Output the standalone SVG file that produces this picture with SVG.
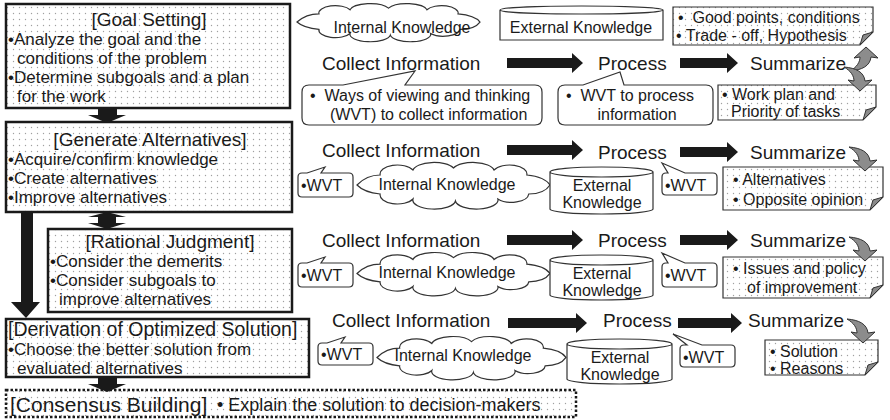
<svg xmlns="http://www.w3.org/2000/svg" xmlns:xlink="http://www.w3.org/1999/xlink" width="890" height="420" viewBox="0 0 890 420">
  <defs>
    <style>
      .t { font-family: "Liberation Sans", Arial, sans-serif; fill: #1a1a1a; }
      .title { font-size: 19px; }
      .body { font-size: 17px; }
      .step { font-size: 19px; }
      .small { font-size: 16px; }
      .box { fill: url(#dots); stroke: #1a1a1a; stroke-width: 2.5; }
      .thin { fill: #fff; stroke: #333; stroke-width: 1.2; }
      .note { fill: url(#dots); stroke: #333; stroke-width: 1.2; }
      .fold { fill: #8a8a8a; stroke: #333; stroke-width: 1; }
      .curl { fill: #8c8c8c; stroke: #333; stroke-width: 1; }
      .block { fill: #1a1a1a; }
    </style>
    <pattern id="dots" width="6" height="6" patternUnits="userSpaceOnUse">
      <rect width="6" height="6" fill="#fff"/>
      <circle cx="1.5" cy="1.5" r="0.7" fill="#a0a0a0"/>
    </pattern>
    <!-- cloud outline in a 200 x 44 box -->
    <path id="cloud" vector-effect="non-scaling-stroke" d="M0 22 C6 16 14 12 24 12 A18 9 0 0 1 58 7 A22 9 0 0 1 100 5 A22 9 0 0 1 142 7 A18 9 0 0 1 176 12 C186 13 196 16 200 22 C196 28 188 31 178 31 A18 9 0 0 1 146 36 A22 9 0 0 1 102 38 A22 9 0 0 1 58 36 A18 9 0 0 1 24 31 C14 30 6 28 0 22 Z"/>
    <!-- grey curved arrow, tip at origin pointing down -->
    <path id="curl" d="M0 0 L12 -11 L5 -10 C4 -19 -4 -23 -16 -24 C-9 -20 -6 -15 -6 -10 L-12 -11 Z"/>
  </defs>

  <rect width="890" height="420" fill="#fff"/>

  <!-- process stages, left column -->
  <g id="goal-setting">
    <rect class="box" x="6" y="4" width="284" height="104"/>
    <text class="t title" x="149" y="26" text-anchor="middle">[Goal Setting]</text>
    <text class="t body" x="8" y="45">•Analyze the goal and the</text>
    <text class="t body" x="17" y="64">conditions of the problem</text>
    <text class="t body" x="8" y="83">•Determine subgoals and a plan</text>
    <text class="t body" x="17" y="102">for the work</text>
  </g>

  <g id="generate-alternatives">
    <rect class="box" x="6" y="122" width="286" height="90"/>
    <text class="t title" x="150" y="146" text-anchor="middle">[Generate Alternatives]</text>
    <text class="t body" x="8" y="165">•Acquire/confirm knowledge</text>
    <text class="t body" x="8" y="184">•Create alternatives</text>
    <text class="t body" x="8" y="203">•Improve alternatives</text>
  </g>

  <g id="rational-judgment">
    <rect class="box" x="48" y="229" width="244" height="83"/>
    <text class="t title" x="170" y="248" text-anchor="middle">[Rational Judgment]</text>
    <text class="t body" x="50" y="267">•Consider the demerits</text>
    <text class="t body" x="50" y="286">•Consider subgoals to</text>
    <text class="t body" x="59" y="305">improve alternatives</text>
  </g>

  <g id="derivation">
    <rect class="box" x="6" y="319" width="303" height="58"/>
    <text class="t" x="8" y="336" font-size="19.5">[Derivation of Optimized Solution]</text>
    <text class="t body" x="8" y="355">•Choose the better solution from</text>
    <text class="t body" x="17" y="374">evaluated alternatives</text>
  </g>

  <g id="consensus-building">
    <rect x="6" y="390" width="570" height="27" fill="url(#dots)" stroke="#1a1a1a" stroke-width="2.5" stroke-dasharray="2.5 2"/>
    <text class="t" x="10" y="412" font-size="21">[Consensus Building]</text>
    <text class="t" x="217" y="411" font-size="18">• Explain the solution to decision-makers</text>
  </g>

  <!-- stage-to-stage connectors -->
  <g id="stage-connectors">
    <polygon class="block" points="98,108 117,108 117,115 126,115 107,123 88,115 98,115"/>
    <polygon class="block" points="107,212 126,217 116,217 116,223 126,223 107,229 88,223 98,223 98,217 88,217"/>
    <polygon class="block" points="21,212 33,212 33,302 40,302 26,318 11,302 21,302"/>
    <polygon class="block" points="98,377 117,377 117,384 126,384 107,392 88,384 98,384"/>
  </g>

  <!-- row 1: goal setting -->
  <g id="row1-internal">
    <use xlink:href="#cloud" class="thin" transform="translate(297 4) scale(0.915 0.82)"/>
    <text class="t small" x="402" y="33" text-anchor="middle">Internal Knowledge</text>
  </g>
  <g id="row1-external">
    <path class="thin" d="M500 10 V40 H663 V10 A81.5 4 0 0 0 500 10 A81.5 4 0 0 0 663 10"/>
    <text class="t small" x="581" y="33" text-anchor="middle">External Knowledge</text>
  </g>
  <g id="row1-note-top">
    <path class="note" d="M673 7 H873 V32 L860 45 H673 Z"/>
    <path class="fold" d="M873 32 L860 45 L863 35 Z"/>
    <text class="t small" x="678" y="23" xml:space="preserve">•  Good points, conditions</text>
    <text class="t small" x="676" y="41">• Trade - off, Hypothesis</text>
  </g>
  <g id="row1-steps">
    <text class="t step" x="322" y="70">Collect Information</text>
    <text class="t step" x="598" y="70">Process</text>
    <text class="t step" x="750" y="70">Summarize</text>
  </g>
  <g id="row1-wvt-collect">
    <path class="thin" d="M309 85 L343 85 L415 71 L405 85 L535 85 Q542 85 542 92 L542 118 Q542 125 535 125 L309 125 Q302 125 302 118 L302 92 Q302 85 309 85 Z"/>
    <text class="t small" x="310" y="101" xml:space="preserve">•  Ways of viewing and thinking</text>
    <text class="t small" x="330" y="120">(WVT) to collect information</text>
  </g>
  <g id="row1-wvt-process">
    <path class="thin" d="M565 85 L583 85 L620 72 L624 85 L706 85 Q713 85 713 92 L713 118 Q713 125 706 125 L565 125 Q558 125 558 118 L558 92 Q558 85 565 85 Z"/>
    <text class="t small" x="566" y="101" xml:space="preserve">•  WVT to process</text>
    <text class="t small" x="637" y="120" text-anchor="middle">information</text>
  </g>
  <g id="row1-note-bottom">
    <path class="note" d="M718 85 H876 V107 L863 120 H718 Z"/>
    <path class="fold" d="M876 107 L863 120 L866 110 Z"/>
    <text class="t small" x="722" y="100">• Work plan and</text>
    <text class="t small" x="731" y="117">Priority of tasks</text>
  </g>

  <!-- row 2: generate alternatives -->
  <g id="row2-steps">
    <text class="t step" x="322" y="157">Collect Information</text>
    <text class="t step" x="598" y="159">Process</text>
    <text class="t step" x="750" y="159">Summarize</text>
  </g>
  <g id="row2-wvt-collect">
    <path class="thin" d="M302 173 L307 173 L325 167 L321 173 L349 173 Q353 173 353 177 L353 193 Q353 197 349 197 L302 197 Q298 197 298 193 L298 177 Q298 173 302 173 Z"/>
    <text class="t small" x="301" y="191">•WVT</text>
  </g>
  <g id="row2-internal">
    <use xlink:href="#cloud" class="thin" transform="translate(357 163) scale(0.965 1.0)"/>
    <text class="t small" x="447" y="190" text-anchor="middle">Internal Knowledge</text>
  </g>
  <g id="row2-external">
    <path class="thin" d="M550 172 V209 A51.5 5 0 0 0 653 209 V172 A51.5 5 0 0 0 550 172 A51.5 5 0 0 0 653 172"/>
    <text class="t small" x="602" y="191" text-anchor="middle">External</text>
    <text class="t small" x="602" y="208" text-anchor="middle">Knowledge</text>
  </g>
  <g id="row2-wvt-process">
    <path class="thin" d="M666 173 L668 173 L662 163 L685 173 L713 173 Q717 173 717 177 L717 191 Q717 195 713 195 L666 195 Q662 195 662 191 L662 177 Q662 173 666 173 Z"/>
    <text class="t small" x="665" y="191">•WVT</text>
  </g>
  <g id="row2-note">
    <path class="note" d="M723 167 H883 V197 L870 210 H723 Z"/>
    <path class="fold" d="M883 197 L870 210 L873 200 Z"/>
    <text class="t small" x="733" y="185">• Alternatives</text>
    <text class="t small" x="733" y="205">• Opposite opinion</text>
  </g>

  <!-- row 3: rational judgment -->
  <g id="row3-steps">
    <text class="t step" x="322" y="247">Collect Information</text>
    <text class="t step" x="598" y="247">Process</text>
    <text class="t step" x="750" y="247">Summarize</text>
  </g>
  <g id="row3-wvt-collect">
    <path class="thin" d="M302 263 L307 263 L325 257 L321 263 L349 263 Q353 263 353 267 L353 283 Q353 287 349 287 L302 287 Q298 287 298 283 L298 267 Q298 263 302 263 Z"/>
    <text class="t small" x="301" y="281">•WVT</text>
  </g>
  <g id="row3-internal">
    <use xlink:href="#cloud" class="thin" transform="translate(357 253) scale(0.965 0.93)"/>
    <text class="t small" x="447" y="278" text-anchor="middle">Internal Knowledge</text>
  </g>
  <g id="row3-external">
    <path class="thin" d="M550 260 V295 A51.5 5 0 0 0 653 295 V260 A51.5 5 0 0 0 550 260 A51.5 5 0 0 0 653 260"/>
    <text class="t small" x="602" y="279" text-anchor="middle">External</text>
    <text class="t small" x="602" y="296" text-anchor="middle">Knowledge</text>
  </g>
  <g id="row3-wvt-process">
    <path class="thin" d="M666 263 L668 263 L662 253 L685 263 L713 263 Q717 263 717 267 L717 283 Q717 287 713 287 L666 287 Q662 287 662 283 L662 267 Q662 263 666 263 Z"/>
    <text class="t small" x="665" y="281">•WVT</text>
  </g>
  <g id="row3-note">
    <path class="note" d="M723 257 H883 V285 L870 298 H723 Z"/>
    <path class="fold" d="M883 285 L870 298 L873 288 Z"/>
    <text class="t small" x="733" y="274">• Issues and policy</text>
    <text class="t small" x="747" y="293">of improvement</text>
  </g>

  <!-- row 4: derivation of optimized solution -->
  <g id="row4-steps">
    <text class="t step" x="332" y="327">Collect Information</text>
    <text class="t step" x="603" y="327">Process</text>
    <text class="t step" x="748" y="327">Summarize</text>
  </g>
  <g id="row4-wvt-collect">
    <path class="thin" d="M322 343 L327 343 L345 337 L341 343 L369 343 Q373 343 373 347 L373 361 Q373 365 369 365 L322 365 Q318 365 318 361 L318 347 Q318 343 322 343 Z"/>
    <text class="t small" x="321" y="360">•WVT</text>
  </g>
  <g id="row4-internal">
    <use xlink:href="#cloud" class="thin" transform="translate(377 337) scale(0.945 0.93)"/>
    <text class="t small" x="463" y="361" text-anchor="middle">Internal Knowledge</text>
  </g>
  <g id="row4-external">
    <path class="thin" d="M567 344 V379 A52.5 5 0 0 0 672 379 V344 A52.5 5 0 0 0 567 344 A52.5 5 0 0 0 672 344"/>
    <text class="t small" x="620" y="363" text-anchor="middle">External</text>
    <text class="t small" x="620" y="380" text-anchor="middle">Knowledge</text>
  </g>
  <g id="row4-wvt-process">
    <path class="thin" d="M684 345 L687 345 L673 334 L702 345 L731 345 Q735 345 735 349 L735 363 Q735 367 731 367 L684 367 Q680 367 680 363 L680 349 Q680 345 684 345 Z"/>
    <text class="t small" x="683" y="363">•WVT</text>
  </g>
  <g id="row4-note">
    <path class="note" d="M765 340 H878 V362 L865 375 H765 Z"/>
    <path class="fold" d="M878 362 L865 375 L868 365 Z"/>
    <text class="t small" x="770" y="357">• Solution</text>
    <text class="t small" x="770" y="374">• Reasons</text>
  </g>

  <!-- flow arrows between steps and summary curls -->
  <g id="connectors">
    <polygon class="block" points="507,58 572,58 572,53 583,63 572,73 572,68 507,68"/>
    <polygon class="block" points="680,58 727,58 727,53 738,63 727,73 727,68 680,68"/>
    <polygon class="block" points="507,145 572,145 572,140 583,150 572,160 572,155 507,155"/>
    <polygon class="block" points="680,147 727,147 727,142 738,152 727,162 727,157 680,157"/>
    <polygon class="block" points="507,235 572,235 572,230 583,240 572,250 572,245 507,245"/>
    <polygon class="block" points="680,235 727,235 727,230 738,240 727,250 727,245 680,245"/>
    <polygon class="block" points="508,318 576,318 576,313 587,323 576,333 576,328 508,328"/>
    <polygon class="block" points="678,318 731,318 731,313 742,323 731,333 731,328 678,328"/>

    <use xlink:href="#curl" class="curl" transform="translate(866 47) scale(1 -1)"/>
    <use xlink:href="#curl" class="curl" transform="translate(860 91)"/>
    <use xlink:href="#curl" class="curl" transform="translate(865 171)"/>
    <use xlink:href="#curl" class="curl" transform="translate(865 261)"/>
    <use xlink:href="#curl" class="curl" transform="translate(863 343)"/>
  </g>
</svg>
